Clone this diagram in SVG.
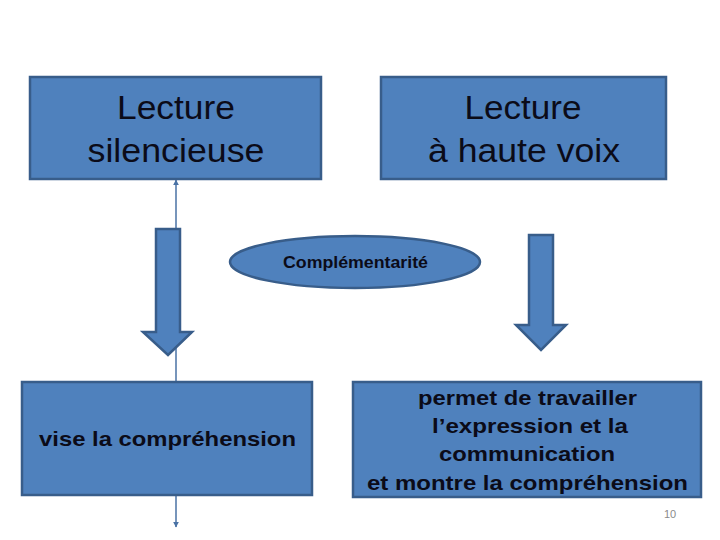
<svg xmlns="http://www.w3.org/2000/svg" width="720" height="540" viewBox="0 0 720 540">
<style>
.box{fill:#4F81BD;stroke:#385D8A;stroke-width:2.5}
.big{font-family:"Liberation Sans",Arial,sans-serif;font-size:33px;fill:#0b0b18;text-anchor:middle}
.bold{font-family:"Liberation Sans",Arial,sans-serif;font-weight:bold;font-size:21px;fill:#0b0b18;text-anchor:middle}
.thin{stroke:#4A72A5;stroke-width:1.5;fill:none}
</style>
<defs>
<marker id="ah" viewBox="0 0 10 10" refX="9" refY="5" markerWidth="4" markerHeight="4" orient="auto"><path d="M0,0L10,5L0,10z" fill="#4A72A5"/></marker>
</defs>
<rect width="720" height="540" fill="#fff"/>
<g id="connectors">
<line class="thin" x1="176" y1="382" x2="176" y2="180" marker-end="url(#ah)"/>
<line class="thin" x1="176" y1="495" x2="176" y2="527" marker-end="url(#ah)"/>
<path class="box" d="M156,229H180V332H192L168,355L143,332H156Z"/>
<path class="box" d="M529,235H553V325H566L541,350L516,325H529Z"/>
</g>
<g id="n1"><rect class="box" x="30" y="77" width="291" height="102"/>
<text class="big" x="176" y="119" textLength="118" lengthAdjust="spacingAndGlyphs">Lecture</text><text class="big" x="176" y="162" textLength="177" lengthAdjust="spacingAndGlyphs">silencieuse</text></g>
<g id="n2"><rect class="box" x="381" y="77" width="285" height="102"/>
<text class="big" x="523" y="119" textLength="117" lengthAdjust="spacingAndGlyphs">Lecture</text><text class="big" x="524" y="162" textLength="192" lengthAdjust="spacingAndGlyphs">à haute voix</text></g>
<g id="n3"><ellipse class="box" cx="355" cy="262" rx="125" ry="26"/>
<text class="bold" style="font-size:16px" x="355.5" y="268" textLength="145" lengthAdjust="spacingAndGlyphs">Complémentarité</text></g>
<g id="n4"><rect class="box" x="22" y="382" width="290" height="113"/>
<text class="bold" x="167.5" y="446" textLength="257" lengthAdjust="spacingAndGlyphs">vise la compréhension</text></g>
<g id="n5"><rect class="box" x="353" y="382" width="348" height="115"/>
<text class="bold" x="527.5" y="405" textLength="219" lengthAdjust="spacingAndGlyphs">permet de travailler</text>
<text class="bold" x="530" y="433" textLength="196" lengthAdjust="spacingAndGlyphs">l’expression et la</text>
<text class="bold" x="527" y="461" textLength="176" lengthAdjust="spacingAndGlyphs">communication</text>
<text class="bold" x="527.5" y="490" textLength="321" lengthAdjust="spacingAndGlyphs">et montre la compréhension</text></g>
<text x="670" y="518" font-family="Liberation Sans,Arial,sans-serif" font-size="11" fill="#8a8a8a" text-anchor="middle">10</text>
</svg>
